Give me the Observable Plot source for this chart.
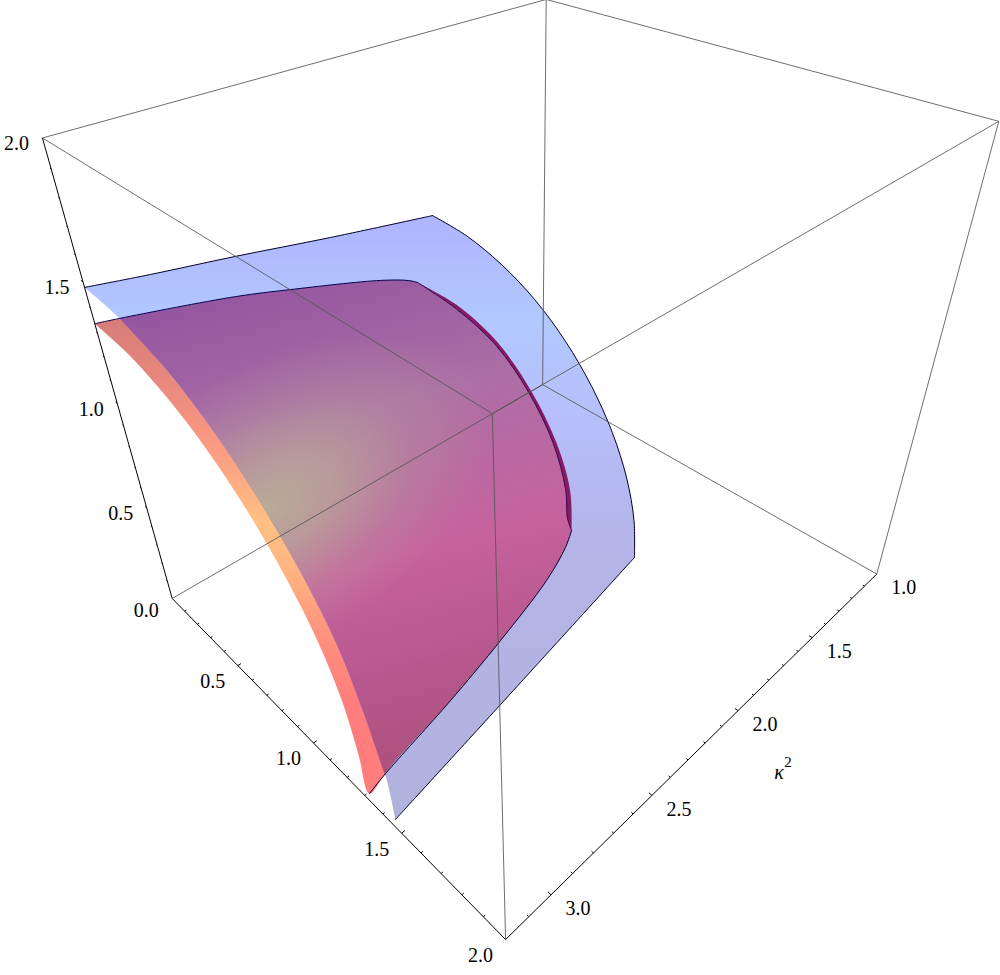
<!DOCTYPE html><html><head><meta charset="utf-8">
<script src="https://cdn.jsdelivr.net/npm/d3@7"></script>
<script src="https://cdn.jsdelivr.net/npm/@observablehq/plot@0.6"></script>
<style>html,body{margin:0;padding:0;background:#fff}svg{display:block}svg text{font-family:"Liberation Serif","Times New Roman",serif !important}</style>
</head><body><div id="chart"></div>
<script>
// Surface outlines in axis units: [x, kappa^2, z]
const kMax = 3.2, kMin = 1, xzMax = 2;
const blueTop = [[0,3.2,1.479],[0,2.969,1.438],[0,2.638,1.385],[0,2.218,1.312],[0,1.691,1.228]];
const blueFar = [[0,1.691,1.228],[.213,1.687,1.206],[.418,1.683,1.148],[.610,1.679,1.057],[.782,1.675,.932],[.930,1.672,.780],[1.049,1.668,.606],[1.136,1.664,.414],[1.188,1.660,.209],[1.203,1.656,0]];
const blueFloor = [[1.446,3.183,0],[1.355,2.606,0],[1.203,1.656,0]];
const blueNear = [[0,3.2,1.479],[.222,3.2,1.460],[.505,3.2,1.387],[.738,3.2,1.277],[.947,3.2,1.129],[1.129,3.2,.947],[1.276,3.2,.737],[1.372,3.2,.499],[1.448,3.2,.265],[1.446,3.183,0]];
const redTop = [[0,3.2,1.337],[0,3.113,1.321],[0,2.668,1.226],[0,2.431,1.161],[0,1.995,1.030],[0,1.847,.971],[0,1.798,.942]];
const redNear = [[0,3.2,1.337],[.232,3.2,1.317],[.457,3.2,1.256],[.669,3.2,1.158],[.859,3.2,1.024],[1.024,3.2,.859],[1.158,3.2,.669],[1.250,3.2,.455],[1.300,3.2,.229],[1.306,3.184,0]];
const redFloor = [[1.306,3.184,0],[1.283,3.095,0],[1.209,2.726,0],[1.130,2.391,0],[1.029,2.025,0],[.948,1.823,0],[.892,1.724,0]];
const redFar = [[0,1.798,.942],[.248,1.786,.924],[.483,1.773,.836],[.673,1.761,.673],[.812,1.749,.469],[.887,1.736,.238],[.892,1.724,0]];
const redFarInner = [[0,1.798,.942],[.242,1.786,.903],[.472,1.773,.817],[.658,1.761,.658],[.792,1.749,.458],[.860,1.736,.230],[.870,1.729,.061],[.892,1.724,0]];
const xLabels = [0.5,1,1.5,2];
const zLabels = [0,0.5,1,1.5,2];
const kLabels = [1,1.5,2,2.5,3];
const xTicks = d3.range(1,20).map(d=>d/10);
const zTicks = d3.range(1,20).map(d=>d/10);
const kTicks = d3.range(11,32).map(d=>d/10);

// Gradient stops (style)
const bandStops = [[0,"rgb(215,125,120)"],[.12,"rgb(232,135,125)"],[.25,"rgb(250,152,130)"],[.42,"rgb(255,192,130)"],[.52,"rgb(255,180,128)"],[.68,"rgb(255,140,125)"],[.8,"rgb(255,125,125)"],[1,"rgb(255,125,125)"]];
const blueStops = [[0,"rgb(175,180,255)"],[.18,"rgb(178,200,255)"],[.36,"rgb(183,190,250)"],[.55,"rgb(180,180,232)"],[1,"rgb(178,178,222)"]];
const overlapStops = [[0,"rgb(148,85,160)"],[.3,"rgb(172,110,165)"],[.6,"rgb(198,98,158)"],[.8,"rgb(185,88,145)"],[1,"rgb(172,82,125)"]];

// Camera: projects axis units onto the picture
const cam = [[70.21178,-168.68476,-49.50347,660.40301],[32.64447,32.52819,-174.60212,315.91868],[-0.0928,-0.093,-0.09368,1]];
const project = ([x,k,z]) => {
  const w = cam[2][0]*x+cam[2][1]*k+cam[2][2]*z+1;
  return {x:(cam[0][0]*x+cam[0][1]*k+cam[0][2]*z+cam[0][3])/w, y:(cam[1][0]*x+cam[1][1]*k+cam[1][2]*z+cam[1][3])/w};
};
const pts = a => a.map(project);
const rev = a => a.slice().reverse();
const blueShape = [...blueTop,...blueFar,...rev(blueFloor),...rev(blueNear)];
const redShape = [...redTop,...redFar,...rev(redFloor),...rev(redNear).slice(1)];
const overlapShape = [...blueNear.slice(1,9),...redFloor.slice(1),...rev(redFarInner),...rev(redTop).slice(1,6)];
const rimShape = [...redFar,...rev(redFarInner)];

const link = (a,b) => { const p=project(a), q=project(b); return {x1:p.x,y1:p.y,x2:q.x,y2:q.y}; };
const axisEdges = [[[0,kMax,0],[0,kMax,xzMax]],[[0,kMax,0],[xzMax,kMax,0]],[[xzMax,kMax,0],[xzMax,kMin,0]]].map(e=>link(...e));
const boxEdges = [
 [[0,kMax,xzMax],[xzMax,kMax,xzMax]],[[0,kMax,xzMax],[0,kMin,xzMax]],[[0,kMin,xzMax],[xzMax,kMin,xzMax]],[[xzMax,kMin,xzMax],[xzMax,kMax,xzMax]],
 [[xzMax,kMax,xzMax],[xzMax,kMax,0]],[[xzMax,kMin,xzMax],[xzMax,kMin,0]],[[0,kMax,0],[0,kMin,0]],[[0,kMin,0],[0,kMin,xzMax]],[[0,kMin,0],[xzMax,kMin,0]]
].map(e=>link(...e));
const isMajor = v => Math.abs(v*2-Math.round(v*2))<1e-6;
const tickRows = [
 ...xTicks.map(v=>link([v,kMax,0],[v,kMax-(isMajor(v)?.014:.008),0])),
 ...zTicks.map(v=>link([0,kMax,v],[isMajor(v)?-.014:-.008,kMax,v])),
 ...kTicks.map(v=>link([xzMax,v,0],[xzMax-(isMajor(v)?.014:.008),v,0]))
];
const labelRow = (p,v,dx,dy) => { const q=project(p); return {x:q.x+dx,y:q.y+dy,t:v.toFixed(1)}; };
const labels = [
 ...zLabels.map(v=>labelRow([0,kMax,v],v,-26,v===0?12:6)),
 ...xLabels.map(v=>labelRow([v,kMax,0],v,-25,16)),
 ...kLabels.map(v=>labelRow([xzMax,v,0],v,27,14))
];
const titlePos = project([xzMax,2,0]);

const defs = () => {
  const d = d3.create("svg:defs");
  const lin = (id,x1,y1,x2,y2,stops) => {
    const g = d.append("linearGradient").attr("id",id).attr("gradientUnits","userSpaceOnUse").attr("x1",x1).attr("y1",y1).attr("x2",x2).attr("y2",y2);
    stops.forEach(([o,c])=>g.append("stop").attr("offset",o).attr("stop-color",c));
  };
  lin("band",0,320,0,800,bandStops);
  lin("blue",0,215,0,800,blueStops);
  lin("overlap",290,270,420,760,overlapStops);
  const r = d.append("radialGradient").attr("id","tan").attr("gradientUnits","userSpaceOnUse").attr("cx",0).attr("cy",0).attr("r",250)
    .attr("gradientTransform","translate(265,510) rotate(-32) scale(1,.55)");
  [[0,.95],[.3,.7],[.65,.25],[1,0]].forEach(([o,a])=>r.append("stop").attr("offset",o).attr("stop-color","rgb(185,175,152)").attr("stop-opacity",a));
  return d.node();
};
const curve = "catmull-rom";
const line = (a,o) => Plot.line(pts(a),{x:"x",y:"y",curve,...o});
const plot = Plot.plot({
  width:1000,height:975,margin:0,
  x:{domain:[0,1000],range:[0,1000],axis:null},
  y:{domain:[0,975],range:[0,975],axis:null},
  marks:[
    defs,
    line(redShape,{fill:"url(#band)",stroke:"none"}),
    line(blueShape,{fill:"url(#blue)",stroke:"none"}),
    line(rimShape,{fill:"rgb(135,28,100)",stroke:"none"}),
    line(overlapShape,{fill:"url(#overlap)",stroke:"none"}),
    line(overlapShape,{fill:"url(#tan)",stroke:"none"}),
    line(blueTop,{stroke:"#000028",strokeWidth:1}),
    line(blueFar,{stroke:"#000028",strokeWidth:1}),
    line(blueFloor,{stroke:"#000028",strokeWidth:1}),
    line(redTop,{stroke:"#000050",strokeWidth:1}),
    line(redFarInner,{stroke:"#300050",strokeWidth:1}),
    line(redFloor,{stroke:"#000028",strokeWidth:1}),
    Plot.link(boxEdges,{x1:"x1",y1:"y1",x2:"x2",y2:"y2",stroke:"#555",strokeWidth:1,strokeOpacity:.85}),
    Plot.link(axisEdges,{x1:"x1",y1:"y1",x2:"x2",y2:"y2",stroke:"#000",strokeWidth:1}),
    Plot.link(tickRows,{x1:"x1",y1:"y1",x2:"x2",y2:"y2",stroke:"#000",strokeWidth:1}),
    Plot.text(labels,{x:"x",y:"y",text:"t",fontFamily:"Liberation Serif",fontSize:20,fill:"#000"}),
    Plot.text(["κ"],{x:[titlePos.x+41],y:[titlePos.y+62],fontStyle:"italic",fontSize:20,fill:"#000"}),
    Plot.text(["2"],{x:[titlePos.x+50],y:[titlePos.y+52],fontSize:15,fill:"#000"})
  ]
});
document.getElementById("chart").append(plot);
</script></body></html>
